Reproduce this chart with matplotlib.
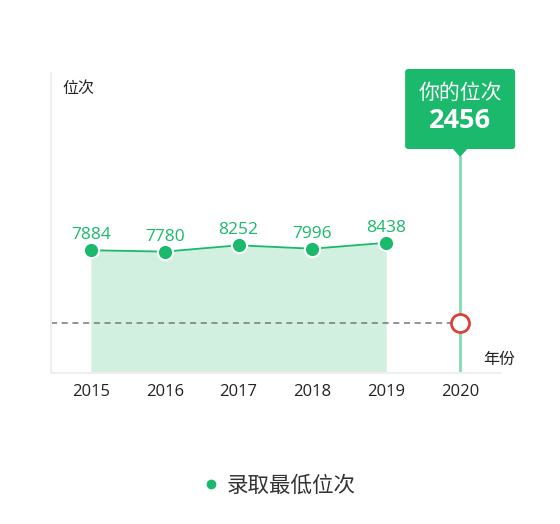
import matplotlib
matplotlib.use("Agg")
import matplotlib.pyplot as plt
from matplotlib.patches import FancyBboxPatch, Polygon
from matplotlib.transforms import IdentityTransform
from matplotlib.lines import Line2D

plt.rcParams['font.family'] = ['Noto Sans CJK SC', 'DejaVu Sans']
NUMF = ['Open Sans', 'Noto Sans CJK SC', 'DejaVu Sans']

years = ['2015', '2016', '2017', '2018', '2019', '2020']
ranks = [7884, 7780, 8252, 7996, 8438]
my_rank = 2456
my_label = '你的位次'
series_name = '录取最低位次'
y_name = '位次'
x_name = '年份'

GREEN = '#1ab96b'
FILL = '#d2f0df'
VLINE = '#86dab0'
RED = '#d9413a'
W, H = 560, 524

fig = plt.figure(figsize=(W / 100, H / 100), dpi=100)
ax = fig.add_axes([51 / W, 1 - 373 / H, 449 / W, 300 / H])
ax.set_xlim(-0.54, 5.54)
ax.set_ylim(-1250, 21070)

xs = list(range(len(ranks)))
ax.fill_between(xs, ranks, -1250, color=FILL, lw=0, zorder=1)
ax.plot(xs, ranks, color=GREEN, lw=1.3, zorder=3)
ax.plot(xs, ranks, 'o', ms=11, mfc=GREEN, mec='white', mew=1.5, zorder=4, clip_on=False)
for x, v in zip(xs, ranks):
    ax.annotate(str(v), (x, v), xytext=(0, 5), textcoords='offset points',
                ha='center', va='bottom', color=GREEN, fontsize=12.5, family=NUMF)

# dashed line at my rank
ax.plot([-0.54, 5], [my_rank, my_rank], ls=(0, (4, 3)), color='#777777', lw=1.1, zorder=2)
# vertical line at 2020
ax.axvline(5, ymin=0, ymax=(373 - 157) / 300, color=VLINE, lw=2, zorder=2)
ax.plot([5], [my_rank], 'o', ms=13, mfc='white', mec=RED, mew=2, zorder=5, clip_on=False)

for s in ['top', 'right']:
    ax.spines[s].set_visible(False)
for s in ['left', 'bottom']:
    ax.spines[s].set_color('#eeeeee')
    ax.spines[s].set_linewidth(1.5)
ax.set_yticks([])
ax.set_xticks(range(len(years)))
ax.set_xticklabels(years, fontsize=12, color='#222222', family=NUMF)
ax.tick_params(axis='x', length=0, pad=8)

fig.text(62 / W, 1 - 88 / H, y_name, fontsize=11.5, color='#222222', va='center', ha='left')
fig.text(483 / W, 1 - 359 / H, x_name, fontsize=11.5, color='#222222', va='center', ha='left')

# tooltip
fig.canvas.draw()
px = ax.transData.transform((5, 0))[0]
bw, top, bot = 110, H - 69, H - 149
box = FancyBboxPatch((px - bw / 2 + 3, bot + 3), bw - 6, top - bot - 6,
                     boxstyle='round,pad=3', fc=GREEN, ec='none',
                     transform=IdentityTransform(), zorder=6)
fig.patches.append(box)
tri = Polygon([(px - 8, bot + 1), (px + 8, bot + 1), (px, H - 157)], closed=True,
              fc=GREEN, ec='none', transform=IdentityTransform(), zorder=6)
fig.patches.append(tri)
fig.text(px / W, 1 - 93 / H, my_label, color='white', fontsize=15, ha='center',
         va='center', zorder=10)
fig.text(px / W, 1 - 121 / H, str(my_rank), color='white', fontsize=19.5, fontweight='bold',
         ha='center', va='center', family=NUMF, zorder=10)

# legend
h = Line2D([], [], marker='o', ls='none', color=GREEN, ms=6)
fig.legend([h], [series_name], loc='center', bbox_to_anchor=(279 / W, 1 - 486 / H),
           frameon=False, fontsize=15.5, labelcolor='#333333', handletextpad=0.35,
           handlelength=0.8)

fig.savefig('out.png', dpi=100)
